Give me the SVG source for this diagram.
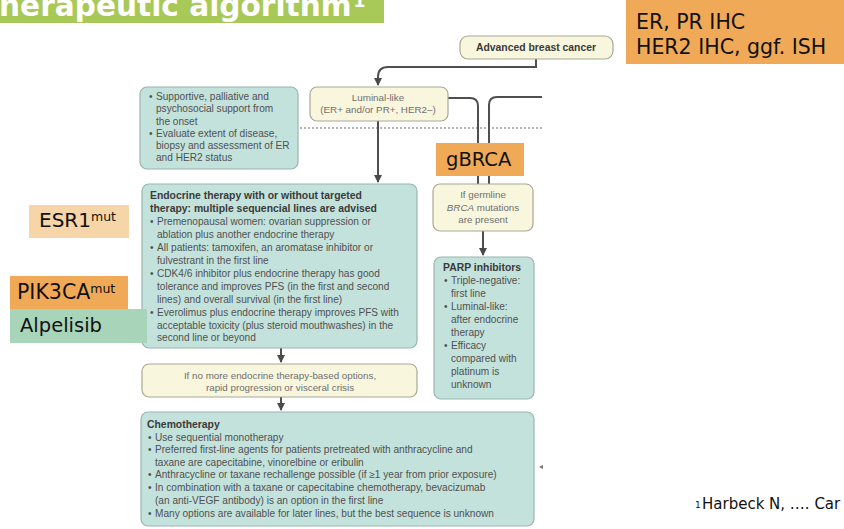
<svg xmlns="http://www.w3.org/2000/svg" width="844" height="529" viewBox="0 0 844 529">
<defs>
<marker id="ah" viewBox="0 0 8 8" refX="7" refY="4" markerWidth="4" markerHeight="4" orient="auto" markerUnits="strokeWidth">
<path d="M0,0 L8,4 L0,8 z" fill="#4a4a4a"/>
</marker>
<style>
.conn{fill:none;stroke:#4f4f4f;stroke-width:2}
.dot{fill:none;stroke:#9a9a9a;stroke-width:1.3;stroke-dasharray:2,2}
.teal{fill:#c4e2dc;stroke:#98b5b0;stroke-width:1.2}
.cream{fill:#f8f6dc;stroke:#aaa796;stroke-width:1.2}
.t{font-family:"Liberation Sans",Arial,sans-serif;font-size:10.1px;fill:#505050}
.tb{font-family:"Liberation Sans",Arial,sans-serif;font-size:10.4px;font-weight:bold;fill:#3a3a3a}
.tc{font-family:"Liberation Sans",Arial,sans-serif;font-size:9.8px;fill:#707070;text-anchor:middle}
.big{font-family:"DejaVu Sans",Verdana,sans-serif;fill:#111}
</style>
</defs>
<rect width="844" height="529" fill="#ffffff"/>

<g id="title">
<rect x="0" y="0" width="384" height="23" fill="#a8c957"/>
<text x="-1" y="16" font-family="DejaVu Sans,Verdana,sans-serif" font-weight="bold" font-size="29.6" fill="#ffffff">herapeutic algorithm<tspan font-size="17" dx="2" dy="-9">1</tspan></text>
</g>

<g id="connectors">
<path class="conn" d="M536,59 V67 H388 Q378,67 378,77 V85" marker-end="url(#ah)"/>
<line class="dot" x1="300" y1="128" x2="542" y2="128"/>
<path class="conn" d="M378,121 V182" marker-end="url(#ah)"/>
<path class="conn" d="M448,98 H470 Q478,98 478,106 V184"/>
<path class="conn" d="M542,97 H497 Q489,97 489,105 V184"/>
<path class="conn" d="M281,348 V362" marker-end="url(#ah)"/>
<path class="conn" d="M281,397 V410" marker-end="url(#ah)"/>
<path class="conn" d="M483,231 V255" marker-end="url(#ah)"/>
<path d="M539,467 L543,465 L543,469 z" fill="#777"/>
</g>

<g id="advanced">
<rect class="cream" x="460" y="36" width="153" height="23" rx="8"/>
<text class="tb" x="536" y="51" text-anchor="middle" font-size="9.4" fill="#555">Advanced breast cancer</text>
</g>

<g id="er-pr-box">
<rect x="626" y="0" width="218" height="64" fill="#f0a956"/>
<text class="big" x="636" y="29" font-size="20.5">ER, PR IHC</text>
<text class="big" x="636" y="54" font-size="20.5">HER2 IHC, ggf. ISH</text>
</g>

<g id="supportive">
<rect class="teal" x="140" y="87" width="158" height="82" rx="7"/>
<text class="t" font-size="10.4"><tspan x="149" y="100">•</tspan><tspan x="156" y="100">Supportive, palliative and</tspan><tspan x="156" y="112">psychosocial support from</tspan><tspan x="156" y="125">the onset</tspan><tspan x="149" y="137">•</tspan><tspan x="156" y="137">Evaluate extent of disease,</tspan><tspan x="156" y="149">biopsy and assessment of ER</tspan><tspan x="156" y="161">and HER2 status</tspan></text>
</g>

<g id="luminal">
<rect class="cream" x="310" y="87" width="138" height="34" rx="7"/>
<text class="tc" x="378" y="101">Luminal-like</text>
<text class="tc" x="378" y="113">(ER+ and/or PR+, HER2–)</text>
</g>

<g id="gbrca">
<rect x="436" y="143" width="88" height="33" fill="#f0a956"/>
<text class="big" x="446" y="166" font-size="19.5">gBRCA</text>
</g>

<g id="endocrine">
<rect class="teal" x="142" y="184" width="275" height="164" rx="7"/>
<text class="tb"><tspan x="150" y="199">Endocrine therapy with or without targeted</tspan><tspan x="150" y="212">therapy: multiple sequencial lines are advised</tspan></text>
<text class="t"><tspan x="150" y="225">•</tspan><tspan x="157" y="225">Premenopausal women: ovarian suppression or</tspan><tspan x="157" y="238">ablation plus another endocrine therapy</tspan><tspan x="150" y="251">•</tspan><tspan x="157" y="251">All patients: tamoxifen, an aromatase inhibitor or</tspan><tspan x="157" y="264">fulvestrant in the first line</tspan><tspan x="150" y="277">•</tspan><tspan x="157" y="277">CDK4/6 inhibitor plus endocrine therapy has good</tspan><tspan x="157" y="290">tolerance and improves PFS (in the first and second</tspan><tspan x="157" y="303">lines) and overall survival (in the first line)</tspan><tspan x="150" y="316">•</tspan><tspan x="157" y="316">Everolimus plus endocrine therapy improves PFS with</tspan><tspan x="157" y="329">acceptable toxicity (plus steroid mouthwashes) in the</tspan><tspan x="157" y="341">second line or beyond</tspan></text>
</g>

<g id="esr1">
<rect x="29" y="205" width="100" height="33" fill="#f6d5a8"/>
<text class="big" x="39" y="227" font-size="20">ESR1<tspan font-size="12.5" dy="-6">mut</tspan></text>
</g>

<g id="pik3ca">
<rect x="10" y="276" width="118" height="33" fill="#f0a956"/>
<text class="big" x="17" y="299" font-size="20.5">PIK3CA<tspan font-size="12.5" dy="-6">mut</tspan></text>
</g>

<g id="alpelisib">
<rect x="10" y="309" width="137" height="34" fill="#a8d5b9"/>
<text class="big" x="20" y="332" font-size="19.5">Alpelisib</text>
</g>

<g id="germline">
<rect class="cream" x="433" y="184" width="100" height="47" rx="7"/>
<text class="tc" x="483" y="198">If germline</text>
<text class="tc" x="483" y="211"><tspan font-style="italic">BRCA</tspan> mutations</text>
<text class="tc" x="483" y="223">are present</text>
</g>

<g id="parp">
<rect class="teal" x="434" y="257" width="100" height="142" rx="7"/>
<text class="tb" x="443" y="271">PARP inhibitors</text>
<text class="t" font-size="10.4"><tspan x="444" y="284">•</tspan><tspan x="451" y="284">Triple-negative:</tspan><tspan x="451" y="297">first line</tspan><tspan x="444" y="310">•</tspan><tspan x="451" y="310">Luminal-like:</tspan><tspan x="451" y="323">after endocrine</tspan><tspan x="451" y="336">therapy</tspan><tspan x="444" y="349">•</tspan><tspan x="451" y="349">Efficacy</tspan><tspan x="451" y="362">compared with</tspan><tspan x="451" y="375">platinum is</tspan><tspan x="451" y="388">unknown</tspan></text>
</g>

<g id="no-more">
<rect class="cream" x="142" y="364" width="275" height="33" rx="7"/>
<text class="tc" x="280" y="379" font-size="10.2" fill="#555">If no more endocrine therapy-based options,</text>
<text class="tc" x="280" y="391" font-size="10.2" fill="#555">rapid progression or visceral crisis</text>
</g>

<g id="chemo">
<rect class="teal" x="141" y="412" width="393" height="114" rx="7"/>
<text class="tb" x="147" y="428" font-size="10.8">Chemotherapy</text>
<text class="t" font-size="10.6"><tspan x="148" y="441">•</tspan><tspan x="155" y="441">Use sequential monotherapy</tspan><tspan x="148" y="453">•</tspan><tspan x="155" y="453">Preferred first-line agents for patients pretreated with anthracycline and</tspan><tspan x="155" y="466">taxane are capecitabine, vinorelbine or eribulin</tspan><tspan x="148" y="478">•</tspan><tspan x="155" y="478">Anthracycline or taxane rechallenge possible (if ≥1 year from prior exposure)</tspan><tspan x="148" y="491">•</tspan><tspan x="155" y="491">In combination with a taxane or capecitabine chemotherapy,  bevacizumab</tspan><tspan x="155" y="504">(an anti-VEGF antibody) is an option in the first line</tspan><tspan x="148" y="517">•</tspan><tspan x="155" y="517">Many options are available for later lines, but the best sequence is unknown</tspan></text>
</g>

<g id="footnote">
<text class="big" x="695" y="508" font-size="9">1</text>
<text class="big" x="702" y="509" font-size="15">Harbeck N, …. Car</text>
</g>
</svg>
